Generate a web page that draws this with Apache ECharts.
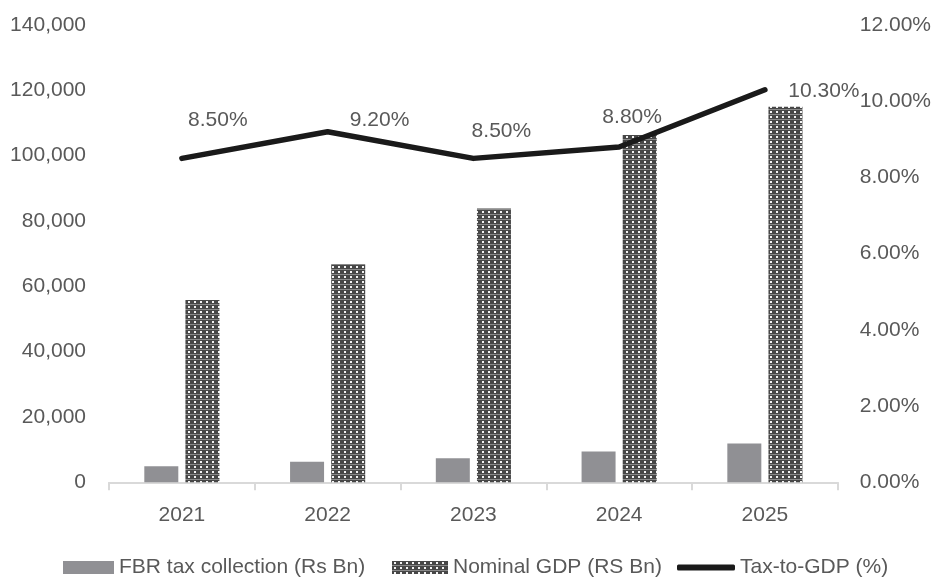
<!DOCTYPE html>
<html><head><meta charset="utf-8">
<script src="https://cdn.jsdelivr.net/npm/echarts@6/dist/echarts.min.js"></script>
<style>html,body{margin:0;padding:0;background:#fff}#c{width:934px;height:578px}</style>
</head><body><div id="c"></div>
<script>
// ---- data ----
const years = ['2021', '2022', '2023', '2024', '2025'];
const fbrTax = [4900, 6300, 7350, 9400, 11900];
const nominalGdp = [55800, 66800, 83850, 106300, 114950];
const taxToGdp = [8.5, 9.2, 8.5, 8.8, 10.3];
const seriesNames = ['FBR tax collection (Rs Bn)', 'Nominal GDP (RS Bn)', 'Tax-to-GDP (%)'];

// ---- styles ----
const labelOffsets = [[36, -38], [52, -12], [28, -27], [13, -30], [59, 1]];
const FONT = 'Liberation Sans';
const TXT = '#595959';

function makePattern() {
  const c = document.createElement('canvas');
  c.width = 6; c.height = 5;
  const g = c.getContext('2d');
  g.fillStyle = '#474747'; g.fillRect(0, 0, 6, 5);
  g.fillStyle = '#8a8a8a'; g.fillRect(0, 4, 6, 1);
  g.fillStyle = '#f4f4f4'; g.fillRect(2, 1, 2, 2);
  return c;
}
const gdpPattern = { image: makePattern(), repeat: 'repeat' };

const chart = echarts.init(document.getElementById('c'), null, { renderer: 'canvas' });
const legendText = { color: TXT, fontSize: 21, fontFamily: FONT };
chart.setOption({
  animation: false,
  textStyle: { fontFamily: FONT },
  grid: { left: 109, right: 95.5, top: 25, bottom: 95.7 },
  legend: [
    { data: [seriesNames[0]], left: 63, top: 557, padding: 0, icon: 'rect', itemWidth: 51, itemHeight: 13, textStyle: legendText },
    { data: [seriesNames[1]], left: 392, top: 557, padding: 0, icon: 'rect', itemWidth: 56, itemHeight: 13, textStyle: legendText },
    { data: [seriesNames[2]], left: 677, top: 557, padding: 0, icon: 'roundRect', itemWidth: 58, itemHeight: 6, textStyle: legendText }
  ],
  xAxis: {
    type: 'category', data: years,
    axisLine: { lineStyle: { color: '#d9d9d9', width: 2 } },
    axisTick: { show: true, length: 8, lineStyle: { color: '#d9d9d9', width: 2 } },
    axisLabel: { color: TXT, fontSize: 21, fontFamily: FONT, margin: 22 }
  },
  yAxis: [
    { type: 'value', min: 0, max: 140000, interval: 20000,
      axisLine: { show: false }, axisTick: { show: false }, splitLine: { show: false },
      axisLabel: { color: TXT, fontSize: 21, fontFamily: FONT, margin: 23,
        formatter: v => v.toLocaleString('en-US') } },
    { type: 'value', min: 0, max: 12, interval: 2, position: 'right',
      axisLine: { show: false }, axisTick: { show: false }, splitLine: { show: false },
      axisLabel: { color: TXT, fontSize: 21, fontFamily: FONT, margin: 22,
        formatter: v => v.toFixed(2) + '%' } }
  ],
  series: [
    { name: seriesNames[0], type: 'bar', data: fbrTax, barWidth: 34, barGap: '21%',
      itemStyle: { color: '#909094' } },
    { name: seriesNames[1], type: 'bar', data: nominalGdp, barWidth: 34,
      itemStyle: { color: gdpPattern } },
    { name: seriesNames[2], type: 'line', yAxisIndex: 1, z: 5,
      data: taxToGdp.map((v, i) => ({ value: v, label: { offset: labelOffsets[i] } })),
      symbol: 'circle', symbolSize: 1, showSymbol: true,
      lineStyle: { color: '#1a1a1a', width: 5.5, cap: 'round', join: 'round' },
      itemStyle: { color: '#1a1a1a' },
      label: { show: true, position: 'inside', color: TXT, fontSize: 21, fontFamily: FONT,
        formatter: p => Number(p.value).toFixed(2) + '%' } }
  ]
});
</script>
</body></html>
